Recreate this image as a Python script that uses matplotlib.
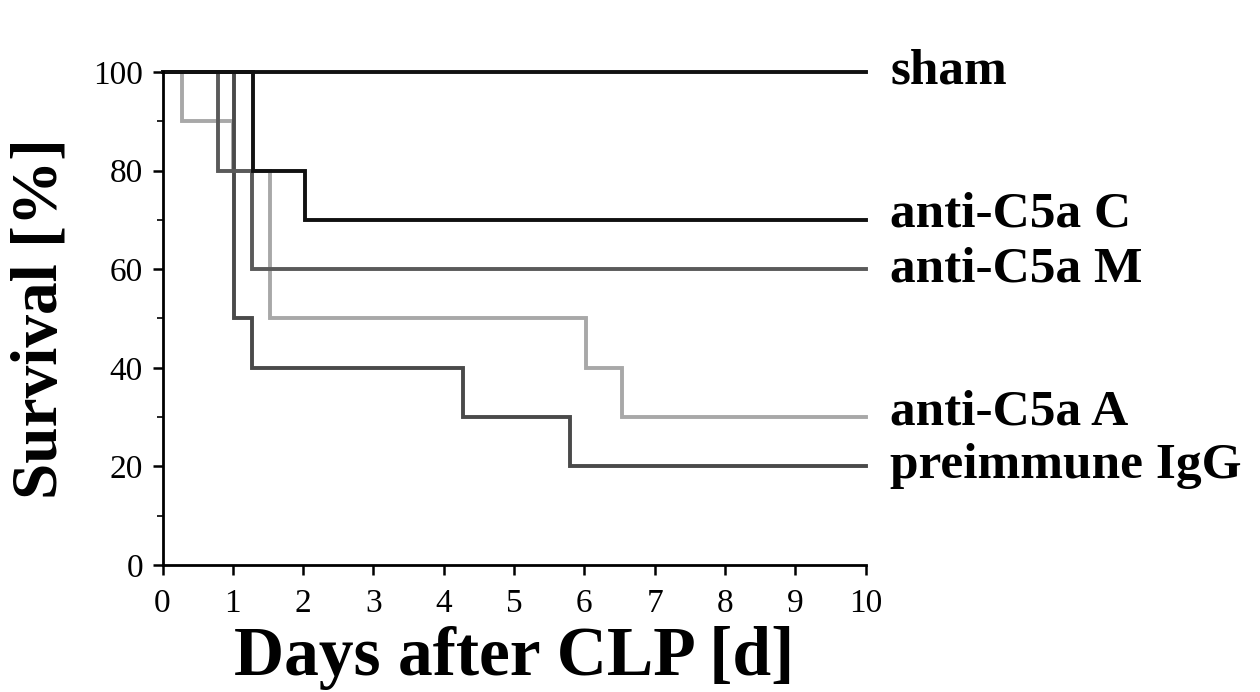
import matplotlib
matplotlib.use('Agg')
import matplotlib.pyplot as plt
from matplotlib.ticker import MultipleLocator

plt.rcParams['font.family'] = ['Liberation Serif', 'DejaVu Serif']

# step times (days) and survival after each step (%)
sham_t = [0, 10]
sham_s = [100, 100]
c_t = [0, 1.29, 2.03, 10]
c_s = [100, 80, 70, 70]
m_t = [0, 0.79, 1.27, 10]
m_s = [100, 80, 60, 60]
a_t = [0, 0.27, 1.0, 1.53, 6.03, 6.53, 10]
a_s = [100, 90, 80, 50, 40, 30, 30]
igg_t = [0, 1.01, 1.27, 4.27, 5.79, 10]
igg_s = [100, 50, 40, 30, 20, 20]

labels = ['sham', 'anti-C5a C', 'anti-C5a M', 'anti-C5a A', 'preimmune IgG']
label_y = [100, 71, 60, 31, 20]

fig = plt.figure(figsize=(12.6, 6.92), dpi=100)
ax = fig.add_axes([0.129, 0.1835, 0.558, 0.7125])

lw = 2.8
ax.step(a_t, a_s, where='post', color='#a8a8a8', lw=lw, solid_joinstyle='miter', clip_on=False)
ax.step(igg_t, igg_s, where='post', color='#4a4a4a', lw=lw, solid_joinstyle='miter', clip_on=False)
ax.step(m_t, m_s, where='post', color='#5a5a5a', lw=lw, solid_joinstyle='miter', clip_on=False)
ax.step(c_t, c_s, where='post', color='#111111', lw=lw, solid_joinstyle='miter', clip_on=False)
ax.step(sham_t, sham_s, where='post', color='#111111', lw=lw, clip_on=False)

ax.set_xlim(0, 10)
ax.set_ylim(0, 100)
ax.spines['top'].set_visible(False)
ax.spines['right'].set_visible(False)
ax.spines['left'].set_linewidth(2)
ax.spines['bottom'].set_linewidth(2)
ax.xaxis.set_major_locator(MultipleLocator(1))
ax.yaxis.set_major_locator(MultipleLocator(20))
ax.yaxis.set_minor_locator(MultipleLocator(10))
ax.tick_params(axis='both', which='major', length=7, width=1.8, labelsize=24, direction='out')
ax.tick_params(axis='y', which='minor', length=4, width=1.2, direction='out')
ax.tick_params(axis='x', pad=10)
ax.tick_params(axis='y', pad=7)

ax.set_xlabel('Days after CLP [d]', fontsize=50, fontweight='bold', labelpad=5)
ax.set_ylabel('Survival [%]', fontsize=47, fontweight='bold', labelpad=16)

for lab, y in zip(labels, label_y):
    ax.text(10.35, y, lab, fontsize=37, fontweight='bold', va='center', ha='left', clip_on=False)

fig.savefig('out.png', dpi=100)
